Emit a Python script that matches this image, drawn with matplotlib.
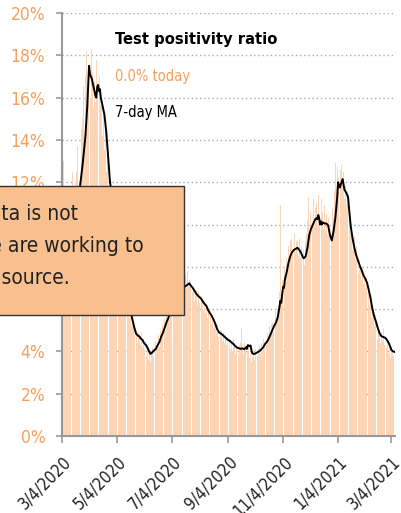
import matplotlib
matplotlib.use("Agg")
import matplotlib.pyplot as plt
import pandas as pd
from matplotlib.patches import Rectangle

DAY0 = pd.Timestamp("2020-03-04")

# daily test positivity (%), one row per week, first day 2020-03-06
daily_pct = [
    13.0, 7.5, 8.0, 9.5, 8.5, 10.0, 9.0,
    10.5, 9.5, 11.0, 12.5, 10.0, 11.5, 12.0,
    12.5, 13.7, 11.0, 12.0, 13.0, 12.5, 14.5,
    15.0, 16.5, 14.0, 17.0, 18.2, 16.0, 17.5,
    18.0, 17.0, 16.0, 18.3, 17.2, 15.5, 16.8,
    15.8, 17.8, 16.5, 15.0, 16.8, 17.0, 15.6,
    16.0, 14.2, 15.5, 13.5, 14.8, 12.5, 13.8,
    12.0, 13.0, 11.5, 12.2, 10.8, 11.6, 10.5,
    10.8, 9.5, 10.2, 9.0, 9.6, 8.4, 9.0,
    8.8, 7.6, 8.2, 7.2, 7.8, 6.6, 7.1,
    6.8, 6.0, 6.5, 5.6, 6.1, 5.2, 5.7,
    5.4, 4.8, 5.3, 4.5, 5.0, 4.4, 4.9,
    4.8, 4.3, 4.9, 4.2, 4.6, 4.1, 4.5,
    4.3, 3.8, 4.1, 3.6, 4.0, 3.5, 3.9,
    4.2, 3.8, 4.3, 4.0, 4.5, 4.1, 4.4,
    4.8, 4.2, 5.0, 4.6, 5.3, 4.9, 5.4,
    5.6, 5.0, 5.9, 5.4, 6.1, 5.5, 6.0,
    6.4, 5.8, 6.7, 6.2, 6.9, 6.3, 6.8,
    7.0, 6.5, 7.3, 6.8, 7.4, 6.9, 7.2,
    7.5, 6.8, 7.6, 7.0, 7.8, 7.1, 7.4,
    7.3, 6.6, 7.2, 6.8, 7.0, 6.4, 6.9,
    6.9, 6.2, 6.8, 6.3, 6.7, 6.1, 6.6,
    6.5, 5.9, 6.4, 5.8, 6.2, 5.6, 6.0,
    6.0, 5.4, 5.9, 5.3, 5.7, 5.1, 5.5,
    5.4, 4.9, 5.3, 4.7, 5.1, 4.6, 5.0,
    5.0, 4.5, 4.9, 4.4, 4.8, 4.3, 4.7,
    4.7, 4.2, 4.6, 4.1, 4.5, 4.0, 4.6,
    4.4, 3.9, 4.3, 3.8, 4.2, 3.9, 4.3,
    4.4, 5.1, 4.2, 3.9, 4.4, 4.0, 4.5,
    4.4, 4.0, 4.3, 3.7, 3.9, 3.5, 3.8,
    4.0, 3.6, 4.1, 3.7, 4.2, 3.8, 4.1,
    4.3, 3.9, 4.4, 4.0, 4.6, 4.2, 4.5,
    4.7, 4.3, 4.9, 4.5, 5.2, 4.8, 5.3,
    5.4, 4.9, 5.6, 5.2, 5.9, 5.4, 6.0,
    6.2, 6.8, 10.9, 6.5, 7.4, 7.0, 7.8,
    7.9, 7.3, 8.4, 8.0, 9.0, 8.4, 9.2,
    9.3, 8.6, 9.4, 8.8, 9.6, 8.7, 9.2,
    9.2, 8.5, 9.3, 8.4, 9.0, 8.0, 8.6,
    8.8, 8.1, 9.2, 9.6, 10.2, 11.3, 9.8,
    10.6, 9.5, 10.9, 10.0, 11.2, 10.3, 10.8,
    11.0, 10.0, 11.4, 10.2, 10.8, 9.6, 11.2,
    10.6, 9.8, 10.9, 9.7, 10.5, 9.5, 10.3,
    9.8, 8.9, 9.7, 9.4, 10.8, 10.3, 11.6,
    12.9, 11.8, 12.7, 12.2, 13.2, 12.0, 12.6,
    12.8, 11.9, 12.5, 11.2, 11.8, 10.9, 11.6,
    11.0, 10.3, 10.5, 9.6, 9.9, 8.8, 9.2,
    9.4, 8.3, 9.0, 8.0, 8.6, 7.7, 8.3,
    8.1, 7.4, 8.0, 7.2, 7.7, 7.0, 7.5,
    7.3, 6.6, 7.0, 6.2, 6.5, 5.6, 6.0,
    6.0, 5.2, 5.7, 4.9, 5.3, 4.6, 5.1,
    5.0, 4.4, 4.9, 4.5, 5.1, 4.3, 4.8,
    4.7, 4.2, 4.5, 3.9, 4.2, 3.7, 4.0,
    4.0, 3.8, 3.7, 0.0,
]
daily_start = pd.Timestamp("2020-03-06")

# 7-day moving average, read at days since 2020-03-04
ma_day = [
    8, 12, 16, 20, 23, 26, 28, 29, 30, 31, 33, 35, 37, 38, 39, 40, 41, 42, 43,
    45, 47, 49, 51, 53, 55, 60, 65, 70, 74, 77, 80, 82, 84, 86, 87, 89, 91, 93,
    95, 96, 98, 100, 102, 104, 106, 108, 110, 112, 114, 116, 119, 122, 126, 130,
    133, 136, 139, 141, 143, 145, 147, 149, 151, 154, 157, 160, 162, 164, 166,
    168, 170, 172, 174, 176, 178, 180, 182, 184, 186, 188, 190, 192, 194, 196,
    198, 200, 202, 204, 205, 206, 208, 209, 210, 211, 213, 215, 217, 219, 221,
    223, 225, 227, 229, 231, 233, 235, 237, 239, 241, 242, 243, 244, 245, 246,
    247, 249, 251, 253, 255, 257, 259, 261, 263, 265, 267, 268, 270, 272, 274,
    276, 278, 280, 282, 283, 284, 285, 286, 287, 288, 289, 291, 293, 295, 297,
    299, 301, 303, 305, 306, 307, 308, 309, 311, 312, 313, 315, 317, 318, 320,
    322, 324, 326, 328, 330, 332, 334, 336, 338, 340, 342, 344, 346, 348, 350,
    352, 354, 356, 358, 360, 362, 364, 365, 367, 369,
]
ma_pct = [
    8.6, 9.6, 10.8, 11.8, 12.9, 14.2, 15.6, 16.5, 17.5, 17.1, 16.9, 16.5, 16.1, 16.0, 16.5, 16.6, 16.3, 16.4, 16.0,
    15.6, 15.2, 14.4, 13.3, 12.1, 11.4, 9.9, 8.5, 7.2, 6.3, 5.7, 5.15, 4.85, 4.75, 4.7, 4.62, 4.55, 4.4, 4.3,
    4.15, 4.05, 3.88, 3.95, 4.05, 4.12, 4.3, 4.45, 4.7, 4.9, 5.15, 5.4, 5.7, 6.1, 6.5, 6.8,
    7.0, 7.06, 7.15, 7.22, 7.1, 7.0, 6.85, 6.72, 6.62, 6.5, 6.3, 6.15, 5.95, 5.8, 5.68,
    5.5, 5.3, 5.05, 4.9, 4.85, 4.78, 4.7, 4.62, 4.55, 4.5, 4.42, 4.35, 4.25, 4.18, 4.15,
    4.12, 4.15, 4.1, 4.2, 4.12, 4.3, 4.25, 4.28, 4.05, 3.9, 3.88, 3.92, 3.97, 4.02, 4.1,
    4.2, 4.35, 4.45, 4.6, 4.8, 5.0, 5.2, 5.35, 5.6, 6.1, 6.4, 6.3, 6.7, 7.05, 7.0,
    7.4, 7.75, 8.2, 8.5, 8.7, 8.8, 8.85, 8.9, 8.8, 8.65, 8.45, 8.4, 8.5, 8.9, 9.5,
    9.8, 10.0, 10.2, 10.3, 10.25, 10.45, 10.3, 10.0, 10.15, 10.0, 10.1, 10.05, 10.05, 9.95, 9.5,
    9.25, 9.7, 10.35, 11.3, 12.0, 11.85, 11.75, 11.9, 12.15, 11.9, 11.65, 11.5, 11.3, 10.8, 9.9,
    9.35, 8.9, 8.55, 8.3, 8.05, 7.85, 7.6, 7.45, 7.25, 6.9, 6.5, 6.0, 5.65, 5.4, 5.1,
    4.85, 4.72, 4.68, 4.65, 4.55, 4.4, 4.2, 4.07, 4.0, 3.97,
]

tick_dates = ["2020-03-04", "2020-05-04", "2020-07-04", "2020-09-04",
              "2020-11-04", "2021-01-04", "2021-03-04"]
tick_labels = ["3/4/2020", "5/4/2020", "7/4/2020", "9/4/2020",
               "11/4/2020", "1/4/2021", "3/4/2021"]
y_ticks = [0, 2, 4, 6, 8, 10, 12, 14, 16, 18, 20]

ORANGE = "#f5a05c"
BAR = "#fcd4b6"
BOX = "#f9c08f"

plt.rcParams["font.family"] = ["DejaVu Sans"]
plt.rcParams["font.stretch"] = "condensed"


def main() -> None:
    fig = plt.figure(figsize=(4.01, 5.13), dpi=100)
    ax = fig.add_axes([0.1546, 0.150, 0.8304, 0.8247])

    days = pd.date_range(daily_start, periods=len(daily_pct), freq="D")
    ax.bar(days, daily_pct, width=0.88, color=BAR, linewidth=0, zorder=2)
    ma_dates = DAY0 + pd.to_timedelta(ma_day, unit="D")
    ax.plot(ma_dates, ma_pct, color="black", lw=1.4, zorder=3)

    ax.set_xlim(DAY0, pd.Timestamp("2021-03-08"))
    ax.set_ylim(0, 20)
    ax.set_yticks(y_ticks)
    ax.set_yticklabels([f"{v}%" for v in y_ticks], color=ORANGE, fontsize=12.5)
    ax.set_xticks(pd.to_datetime(tick_dates))
    ax.set_xticklabels(tick_labels, rotation=45, ha="right",
                       rotation_mode="anchor", fontsize=12, color="#222222")
    ax.tick_params(axis="y", length=4, width=1.2, color="#999999", pad=8)
    ax.tick_params(axis="x", length=5, width=1.2, color="#999999", pad=7)
    ax.yaxis.grid(True, linestyle=(0, (1, 2)), color="#aaaaaa", lw=1, zorder=1)
    ax.set_axisbelow(True)
    for side in ("top", "right"):
        ax.spines[side].set_visible(False)
    for side in ("left", "bottom"):
        ax.spines[side].set_color("#999999")
        ax.spines[side].set_linewidth(1.5)

    ax.text(0.16, 0.937, "Test positivity ratio", transform=ax.transAxes,
            fontsize=11.8, fontweight="bold", va="center")
    ax.text(0.16, 0.85, f"{daily_pct[-1]:.1f}% today", transform=ax.transAxes,
            fontsize=10.5, color=ORANGE, va="center")
    ax.text(0.16, 0.765, "7-day MA", transform=ax.transAxes,
            fontsize=10.5, color="black", va="center")

    # notice box, partly off the left edge of the figure
    W, H = 401, 513
    fig.patches.append(Rectangle((-200 / W, 1 - 315 / H), 384 / W, 129 / H,
                                 transform=fig.transFigure, facecolor=BOX,
                                 edgecolor="#333333", lw=1, zorder=5))
    lines = [("This data is not", 78, 214), ("We are working to", 144, 246),
             ("a new source.", 70, 278)]
    for txt, xr, yc in lines:
        fig.text(xr / W, 1 - yc / H, txt, ha="right", va="center",
                 fontsize=15, color="#222222", zorder=6)

    fig.savefig("out.png", dpi=100)
    plt.close(fig)


if __name__ == "__main__":
    main()
